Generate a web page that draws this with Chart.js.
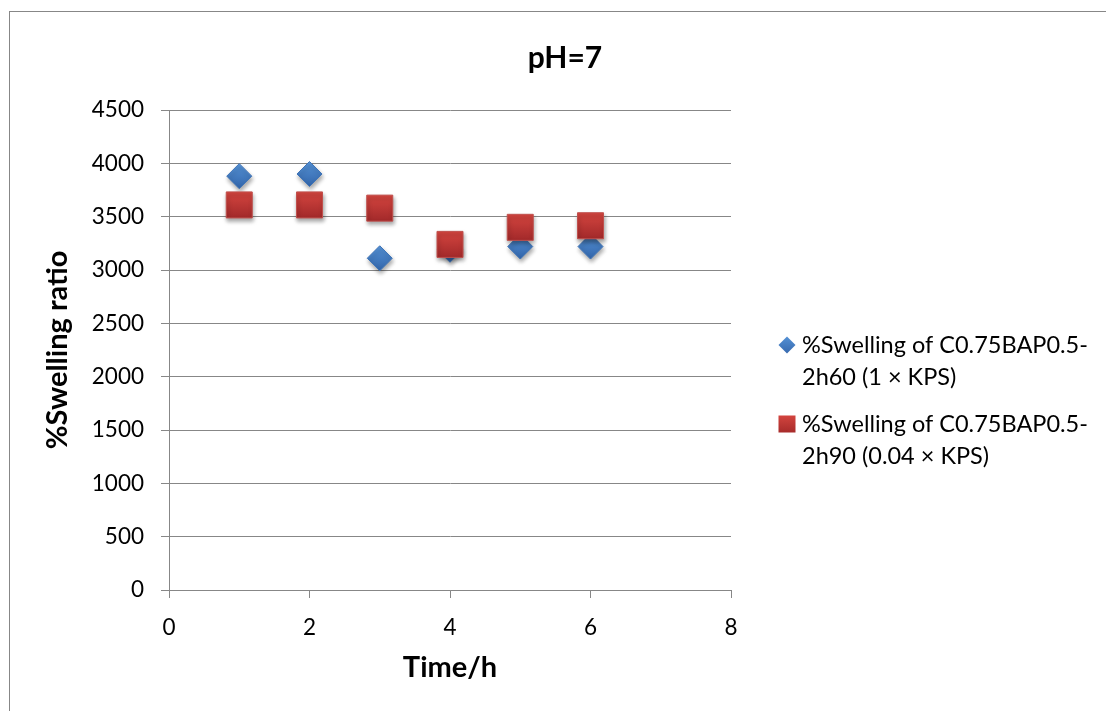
<!DOCTYPE html>
<html>
<head>
<meta charset="utf-8">
<title>pH=7</title>
<script src="https://cdn.jsdelivr.net/npm/chart.js@4.4.0/dist/chart.umd.min.js"></script>
<style>
  html, body { margin: 0; padding: 0; background: #fff; overflow: hidden; }
  canvas { display: block; }
</style>
</head>
<body>
<canvas id="swellChart" width="1106" height="711"></canvas>
<script>
// values
const timeHours = [1, 2, 3, 4, 5, 6];
const swellingKps1 = [3880, 3900, 3110, 3190, 3220, 3220];
const swellingKps004 = [3610, 3610, 3580, 3240, 3400, 3415];

const seriesNames = [
    ['%Swelling of C0.75BAP0.5-', '2h60 (1 \u00d7 KPS)'],
    ['%Swelling of C0.75BAP0.5-', '2h90 (0.04 \u00d7 KPS)']
];
const chartTitle = 'pH=7';
const xTitle = 'Time/h';
const yTitle = '%Swelling ratio';

const FONT = 'Lato';
const GRID = '#878787';

function toPoints(xs, ys) {
    return xs.map((x, i) => ({ x: x, y: ys[i] }));
}

// vertical gradient per marker, like the Excel bevel
function markerFill(top, bottom, half) {
    return function (ctx) {
        if (ctx.type !== 'data' || !ctx.chart.scales.y) return bottom;
        const y = ctx.chart.scales.y.getPixelForValue(ctx.parsed.y);
        if (!Number.isFinite(y)) return bottom;
        const g = ctx.chart.ctx.createLinearGradient(0, y - half, 0, y + half);
        g.addColorStop(0, top);
        g.addColorStop(1, bottom);
        return g;
    };
}

const decorPlugin = {
    id: 'decor',
    beforeDraw(chart) {
        const c = chart.ctx;
        c.save();
        c.strokeStyle = GRID;
        c.lineWidth = 1;
        c.strokeRect(9.5, 11.5, 1200, 800);
        c.restore();
    },
    beforeDatasetsDraw(chart) {
        const c = chart.ctx;
        c.save();
        c.shadowColor = 'rgba(0,0,0,0.35)';
        c.shadowBlur = 4;
        c.shadowOffsetX = 1;
        c.shadowOffsetY = 3;
    },
    afterDatasetsDraw(chart) {
        chart.ctx.restore();
    },
    afterDraw(chart) {
        const c = chart.ctx;
        c.save();
        // title
        c.fillStyle = '#000';
        c.font = 'bold 30px ' + FONT;
        c.textAlign = 'center';
        c.textBaseline = 'alphabetic';
        c.fillText(chartTitle, 565, 68);

        // legend
        const mx = 787, tx = 802;
        const rows = [345, 424];
        c.font = '23.5px ' + FONT;
        c.textAlign = 'left';
        c.textBaseline = 'middle';

        // diamond
        let y = rows[0];
        let g = c.createLinearGradient(0, y - 9, 0, y + 9);
        g.addColorStop(0, '#5592d6');
        g.addColorStop(1, '#3668ad');
        c.fillStyle = g;
        c.beginPath();
        c.moveTo(mx - 8.5, y);
        c.lineTo(mx, y - 8.5);
        c.lineTo(mx + 8.5, y);
        c.lineTo(mx, y + 8.5);
        c.closePath();
        c.fill();

        // square
        y = rows[1];
        g = c.createLinearGradient(0, y - 9, 0, y + 9);
        g.addColorStop(0, '#d4453f');
        g.addColorStop(1, '#a62b2a');
        c.fillStyle = g;
        c.fillRect(mx - 8.5, y - 8.5, 17, 17);

        c.fillStyle = '#000';
        seriesNames.forEach((lines, i) => {
            lines.forEach((t, j) => {
                c.fillText(t, tx, rows[i] + j * 32);
            });
        });
        c.restore();
    }
};

new Chart(document.getElementById('swellChart'), {
    type: 'scatter',
    data: {
        datasets: [
            {
                label: seriesNames[0].join(''),
                data: toPoints(timeHours, swellingKps1),
                pointStyle: 'rectRot',
                pointRadius: 12.5,
                pointHoverRadius: 12.5,
                pointBackgroundColor: markerFill('#5592d6', '#3366ab', 12),
                pointBorderColor: '#3f74b8',
                pointBorderWidth: 1,
                order: 1
            },
            {
                label: seriesNames[1].join(''),
                data: toPoints(timeHours, swellingKps004),
                pointStyle: 'rect',
                pointRadius: 18.4,
                pointHoverRadius: 18.4,
                pointBackgroundColor: markerFill('#d4453f', '#a2292a', 13),
                pointBorderColor: '#c0504d',
                pointBorderWidth: 1,
                order: 0
            }
        ]
    },
    options: {
        responsive: false,
        animation: false,
        events: [],
        layout: {
            padding: { left: 0, right: 375, top: 110, bottom: 0 }
        },
        plugins: {
            legend: { display: false },
            tooltip: { enabled: false },
            title: { display: false }
        },
        scales: {
            x: {
                type: 'linear',
                position: 'bottom',
                min: 0,
                max: 8,
                ticks: {
                    stepSize: 2,
                    color: '#000',
                    padding: 16,
                    font: { family: FONT, size: 22.5 }
                },
                grid: {
                    drawOnChartArea: false,
                    color: GRID,
                    tickLength: 8
                },
                border: { display: true, color: GRID },
                title: {
                    display: true,
                    text: xTitle,
                    color: '#000',
                    font: { family: FONT, size: 29, weight: 'bold' },
                    padding: { top: 0, bottom: 26 }
                },
                afterFit: function (scale) { scale.height = 121; }
            },
            y: {
                min: 0,
                max: 4500,
                ticks: {
                    stepSize: 500,
                    color: '#000',
                    padding: 17,
                    format: { useGrouping: false },
                    font: { family: FONT, size: 22.5 }
                },
                grid: {
                    color: GRID,
                    tickLength: 8
                },
                border: { display: true, color: GRID },
                title: {
                    display: true,
                    text: yTitle,
                    color: '#000',
                    font: { family: FONT, size: 29, weight: 'bold' },
                    padding: { top: 40, bottom: 0 }
                },
                afterFit: function (scale) { scale.width = 169; }
            }
        }
    },
    plugins: [decorPlugin]
});
</script>
</body>
</html>
